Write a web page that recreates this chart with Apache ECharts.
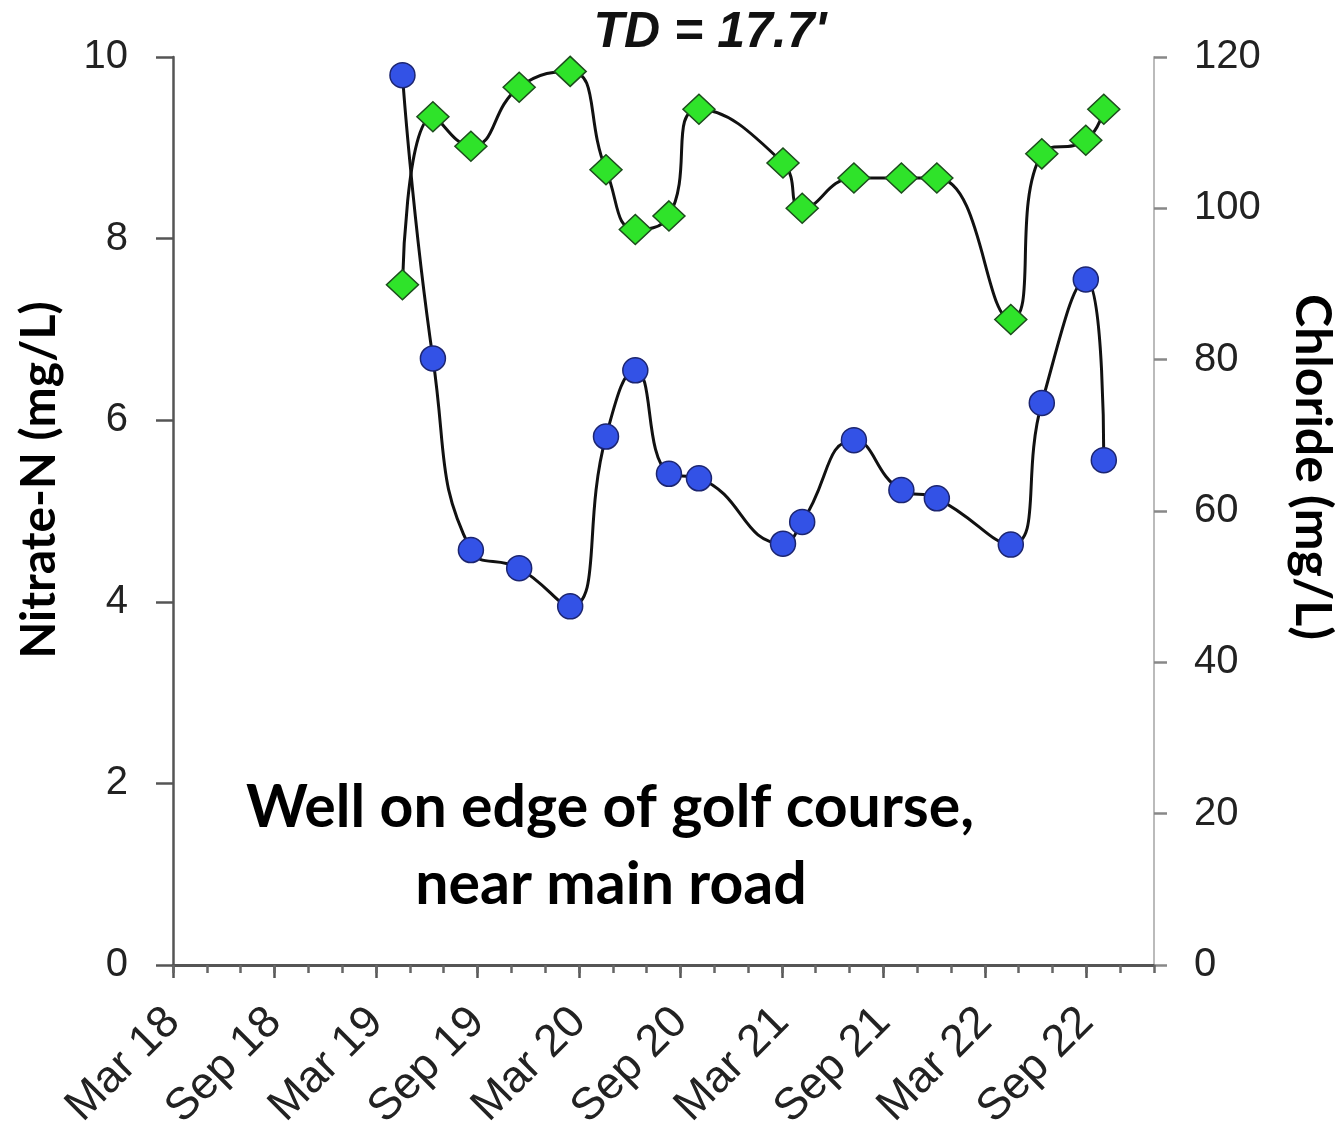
<!DOCTYPE html>
<html>
<head>
<meta charset="utf-8">
<script src="https://cdn.jsdelivr.net/npm/echarts@6/dist/echarts.min.js"></script>
<style>
  html, body { margin: 0; padding: 0; background: #fff; }
  #chart { width: 1339px; height: 1134px; }
</style>
</head>
<body>
<div id="chart"></div>
<script>
// Sampling dates for the well
const sampleDates = [
  '2019-04-18', '2019-06-12', '2019-08-20', '2019-11-15', '2020-02-15',
  '2020-04-19', '2020-06-11', '2020-08-11', '2020-10-04', '2021-03-03',
  '2021-04-07', '2021-07-09', '2021-10-03', '2021-12-06', '2022-04-17',
  '2022-06-12', '2022-08-31', '2022-10-02'
];
// Nitrate-N, mg/L (left axis)
const nitrate = [
  9.80, 6.68, 4.57, 4.37, 3.95,
  5.82, 6.55, 5.41, 5.36, 4.64,
  4.88, 5.78, 5.23, 5.14, 4.63,
  6.19, 7.55, 5.56
];
// Chloride, mg/L (right axis)
const chloride = [
  89.9, 112.1, 108.2, 116.0, 118.1,
  105.1, 97.2, 99.0, 113.1, 106.0,
  100.0, 104.0, 104.0, 104.0, 85.3,
  107.2, 109.0, 113.1
];
// Axis tick labels, every six months from Mar 2018
const xTickLabels = ['Mar 18', 'Sep 18', 'Mar 19', 'Sep 19', 'Mar 20',
                     'Sep 20', 'Mar 21', 'Sep 21', 'Mar 22', 'Sep 22'];
const nitrateTicks = [0, 2, 4, 6, 8, 10];
const chlorideTicks = [0, 20, 40, 60, 80, 100, 120];

// x position in months counted from 1 Mar 2018
function monthsFromStart(dateStr) {
  const [y, m, d] = dateStr.split('-').map(Number);
  const daysInMonth = new Date(y, m, 0).getDate();
  return (y - 2018) * 12 + (m - 3) + (d - 1) / daysInMonth;
}
const xs = sampleDates.map(monthsFromStart);
const nitrateData = xs.map((x, i) => [x, nitrate[i]]);
const chlorideData = xs.map((x, i) => [x, chloride[i]]);

const tickFont = { fontFamily: 'Liberation Sans, Arial, sans-serif', fontSize: 40, color: '#222' };
const boldFont = 'Lato, "Open Sans", sans-serif';

const chart = echarts.init(document.getElementById('chart'), null, { renderer: 'canvas' });
chart.setOption({
  animation: false,
  backgroundColor: '#fff',
  grid: { left: 173, right: 185, top: 57, bottom: 169, containLabel: false },
  xAxis: [
    {
      type: 'value', min: 0, max: 58, interval: 6,
      axisLine: { show: true, onZero: false, lineStyle: { color: '#555', width: 3 } },
      axisTick: { show: true, length: 13, lineStyle: { color: '#555', width: 2.5 } },
      axisLabel: {
        show: true, rotate: 45, margin: 50, showMaxLabel: false,
        ...tickFont, fontSize: 45,
        formatter: v => xTickLabels[Math.round(v / 6)] || ''
      },
      splitLine: { show: false }
    },
    {
      type: 'value', min: 0, max: 58, interval: 2, position: 'bottom',
      axisLine: { show: false },
      axisTick: { show: true, length: 8, lineStyle: { color: '#666', width: 2.5 } },
      axisLabel: { show: false },
      splitLine: { show: false }
    }
  ],
  yAxis: [
    {
      type: 'value', min: nitrateTicks[0], max: nitrateTicks[nitrateTicks.length - 1], interval: 2,
      position: 'left',
      axisLine: { show: true, onZero: false, lineStyle: { color: '#555', width: 2.5 } },
      axisTick: { show: true, length: 17, lineStyle: { color: '#555', width: 2.5 } },
      axisLabel: { margin: 45, ...tickFont },
      splitLine: { show: false }
    },
    {
      type: 'value', min: chlorideTicks[0], max: chlorideTicks[chlorideTicks.length - 1], interval: 20,
      position: 'right',
      axisLine: { show: true, onZero: false, lineStyle: { color: '#bbb', width: 2 } },
      axisTick: { show: true, length: 13, lineStyle: { color: '#888', width: 2.5 } },
      axisLabel: { margin: 40, ...tickFont },
      splitLine: { show: false }
    }
  ],
  series: [
    {
      name: 'Chloride', type: 'line', xAxisIndex: 0, yAxisIndex: 1,
      data: chlorideData, smooth: 0.5,
      symbol: 'diamond', symbolSize: [32, 30],
      lineStyle: { color: '#111', width: 3 },
      itemStyle: { color: '#2fe32a', borderColor: '#1d4d1d', borderWidth: 1.5 },
      z: 3
    },
    {
      name: 'Nitrate-N', type: 'line', xAxisIndex: 0, yAxisIndex: 0,
      data: nitrateData, smooth: 0.5,
      symbol: 'circle', symbolSize: 25,
      lineStyle: { color: '#111', width: 3 },
      itemStyle: { color: '#3352e6', borderColor: '#1c2570', borderWidth: 1.5 },
      z: 4
    }
  ],
  graphic: [
    {
      type: 'text', x: 710, y: 33,
      style: {
        text: "TD = 17.7'", align: 'center', verticalAlign: 'middle',
        font: 'italic bold 50px "Liberation Sans", Arial, sans-serif', fill: '#111'
      }
    },
    {
      type: 'text', x: 40, y: 480, rotation: Math.PI / 2,
      style: {
        text: 'Nitrate-N (mg/L)', align: 'center', verticalAlign: 'middle',
        font: 'bold 48px ' + boldFont, fill: '#000'
      }
    },
    {
      type: 'text', x: 1312, y: 467, rotation: -Math.PI / 2,
      style: {
        text: 'Chloride (mg/L)', align: 'center', verticalAlign: 'middle',
        font: 'bold 50px ' + boldFont, fill: '#000'
      }
    },
    {
      type: 'text', x: 610, y: 808,
      style: {
        text: 'Well on edge of golf course,', align: 'center', verticalAlign: 'middle',
        font: 'bold 59px ' + boldFont, fill: '#000'
      }
    },
    {
      type: 'text', x: 611, y: 885,
      style: {
        text: 'near main road', align: 'center', verticalAlign: 'middle',
        font: 'bold 59px ' + boldFont, fill: '#000'
      }
    }
  ]
});
</script>
</body>
</html>
